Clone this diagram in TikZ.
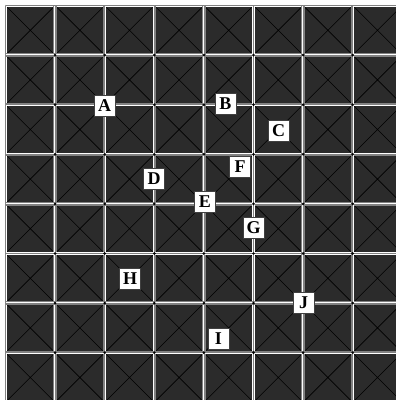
\documentclass[tikz,border=0pt]{standalone}
\usepackage{fontspec}
\setmainfont{Liberation Serif}
\definecolor{cellgray}{RGB}{43,43,43}
\definecolor{linegray}{RGB}{130,130,130}
\begin{document}
\begin{tikzpicture}[
    x=0.75pt, y=-0.75pt,
    gridline/.style={draw=white, double=linegray, double distance=0.6pt, line width=0.5pt,
        preaction={draw=linegray, line width=2.6pt}},
    diag/.style={black, line width=0.45pt},
    tag/.style={draw=black!75, fill=white, line width=0.5pt, inner sep=0pt,
        minimum width=15.5pt, minimum height=16pt,
        font=\fontsize{13.5}{14}\selectfont\bfseries},
]
\useasboundingbox[fill=white] (0,0) rectangle (396,400);

% === Board ===
\begin{scope}
\clip (0,0) rectangle (396,400);
\fill[cellgray] (5.5,5.5) rectangle (460,460);
% diagonals in every cell
\foreach \i in {0,...,8} {
    \foreach \j in {0,...,8} {
        \draw[diag] ({5.5+\i*49.6},{5.5+\j*49.6}) -- ++(49.6,49.6)
            ++(-49.6,0) -- ++(49.6,-49.6);
    }
}
% grid lines
\foreach \i in {0,...,8} {
    \draw[gridline] ({5.5+\i*49.6},5.5) -- ({5.5+\i*49.6},460);
    \draw[gridline] (5.5,{5.5+\i*49.6}) -- (460,{5.5+\i*49.6});
}
% crossing points
\foreach \i in {1,...,8} {
    \foreach \j in {1,...,8} {
        \fill[black] ({5.5+\i*49.6},{5.5+\j*49.6}) circle (1.1pt);
    }
}
\end{scope}

% === Labels ===
\node[tag] (A) at (104.5,106) {A};
\node[tag] (B) at (225.5,103.5) {B};
\node[tag] (C) at (278.5,130.5) {C};
\node[tag] (D) at (154,178.5) {D};
\node[tag] (E) at (205,202) {E};
\node[tag] (F) at (240,166.5) {F};
\node[tag] (G) at (253.5,227.5) {G};
\node[tag] (H) at (130,279) {H};
\node[tag] (I) at (218.5,339) {I};
\node[tag] (J) at (303.5,302.5) {J};

\end{tikzpicture}
\end{document}
